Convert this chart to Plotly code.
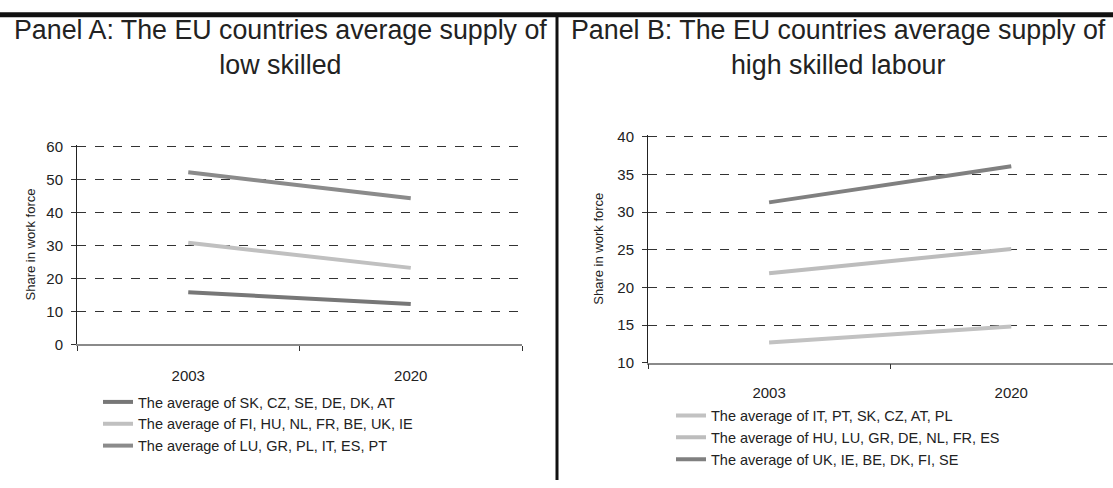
import plotly.graph_objects as go
from plotly.subplots import make_subplots

W, H = 1113, 488

years = ["2003", "2020"]

# Panel A - low skilled
names_a = ["The average of SK, CZ, SE, DE, DK, AT",
           "The average of FI, HU, NL, FR, BE, UK, IE",
           "The average of LU, GR, PL, IT, ES, PT"]
vals_a = [[15.8, 12.2], [30.8, 23.2], [52.2, 44.3]]
cols_a = ["#777777", "#c0c0c0", "#8b8b8b"]

# Panel B - high skilled
names_b = ["The average of IT, PT, SK, CZ, AT, PL",
           "The average of HU, LU, GR, DE, NL, FR, ES",
           "The average of UK, IE, BE, DK, FI, SE"]
vals_b = [[12.7, 14.8], [21.9, 25.1], [31.3, 36.1]]
cols_b = ["#c2c2c2", "#bdbdbd", "#808080"]

fig = make_subplots(rows=1, cols=2)

for n, v, c in zip(names_a, vals_a, cols_a):
    fig.add_trace(go.Scatter(x=years, y=v, mode="lines", name=n,
                             line=dict(color=c, width=4), legend="legend"), row=1, col=1)
for n, v, c in zip(names_b, vals_b, cols_b):
    fig.add_trace(go.Scatter(x=years, y=v, mode="lines", name=n,
                             line=dict(color=c, width=4), legend="legend2"), row=1, col=2)

font = "Liberation Sans, Arial, sans-serif"

xcommon = dict(type="category", tickson="boundaries", ticks="outside", ticklen=5,
               tickcolor="#333", showline=True, linecolor="#8a8a8a", linewidth=1.5,
               showgrid=False, tickfont=dict(size=15, color="#222"))
ycommon = dict(showline=True, linecolor="#222", linewidth=1, ticks="outside", ticklen=5,
               tickcolor="#333", showgrid=True, gridcolor="#333", griddash="dash",
               gridwidth=1, zeroline=False, tickfont=dict(size=15, color="#222"),
               ticklabelstandoff=5)

leg = dict(xanchor="left", yanchor="top", font=dict(size=14.5, color="#222"),
           itemwidth=30, tracegroupgap=0, bgcolor="rgba(0,0,0,0)")

fig.update_layout(
    width=W, height=H, margin=dict(l=0, r=0, t=0, b=0),
    paper_bgcolor="white", plot_bgcolor="white",
    font=dict(family=font, color="#222"),
    xaxis=dict(domain=[77/W, 522/W], range=[-0.5, 1.5], ticklabelstandoff=17, **xcommon),
    yaxis=dict(domain=[1-348/H, 1-142/H], range=[0, 60.6], dtick=10,
               title=dict(text="Share in work force", font=dict(size=13, color="#222"),
                          standoff=7), **ycommon),
    xaxis2=dict(domain=[648/W, 1], range=[-0.5, 1.42], ticklabelstandoff=16, **xcommon),
    yaxis2=dict(domain=[1-367/H, 1-131.7/H], range=[10, 40.3], dtick=5,
                title=dict(text="Share in work force", font=dict(size=13, color="#222"),
                           standoff=10), **ycommon),
    legend=dict(x=98/W, y=1-391/H, **leg),
    legend2=dict(x=671/W, y=1-405/H, **leg),
    showlegend=True,
)

# panel titles
tfont = dict(family="Liberation Sans", size=26.8, color="#222")
fig.add_annotation(text="Panel A: The EU countries average supply of<br>low skilled",
                   x=280/W, y=1-42/H, xref="paper", yref="paper", showarrow=False,
                   xanchor="center", yanchor="middle", font=tfont, align="center")
fig.add_annotation(text="Panel B: The EU countries average supply of<br>high skilled labour",
                   x=838/W, y=1-42/H, xref="paper", yref="paper", showarrow=False,
                   xanchor="center", yanchor="middle", font=tfont, align="center")

# frame lines
fig.add_shape(type="line", xref="paper", yref="paper", x0=0, x1=1, y0=1-8/H, y1=1-8/H,
              line=dict(color="#111", width=5))
fig.add_shape(type="line", xref="paper", yref="paper", x0=557/W, x1=557/W, y0=0, y1=1-8/H,
              line=dict(color="#111", width=3))

fig.write_html("out.html", config={"displayModeBar": False},
               post_script="document.body.style.margin='0';")
